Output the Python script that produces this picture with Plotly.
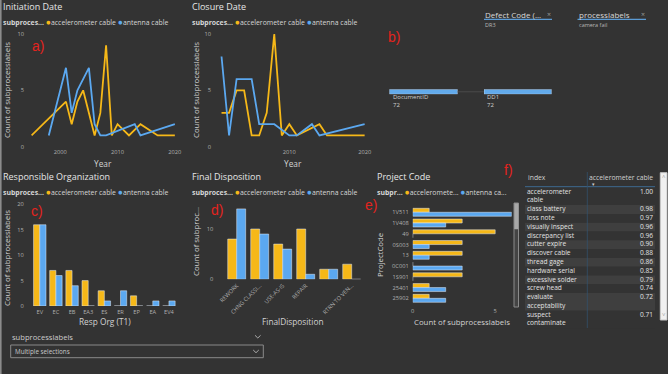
import plotly.graph_objects as go

W, H = 668, 374
BG = "#333333"
YEL = "#F6B818"
BLU = "#5BA8F0"
RED = "#E3231E"
FONT = "Open Sans"
TICK = "#b0b0b0"
TXT = "#e6e6e6"
ATXT = "#d2d2d2"

# ---------------- data ----------------
init_years_acc = [1995, 2001, 2002, 2003, 2004, 2006, 2007, 2008, 2009, 2010, 2012, 2014, 2017, 2020]
init_vals_acc = [1, 4, 2, 4, 5, 1, 3, 9, 1, 2, 1, 2, 1, 1]
init_years_ant = [1998, 2001, 2002, 2003, 2005, 2006, 2007, 2008, 2013, 2014, 2020]
init_vals_ant = [1, 7, 3, 5, 7, 2, 1, 1, 2, 1, 2]

clos_years_acc = [2001, 2002, 2003, 2004, 2005, 2006, 2007, 2008, 2009, 2010, 2011, 2014, 2015, 2020]
clos_vals_acc = [3, 3, 5, 5, 1, 1, 3, 10, 1, 2, 1, 2, 1, 1]
clos_years_ant = [2001, 2002, 2003, 2005, 2006, 2008, 2010, 2011, 2013, 2014, 2020]
clos_vals_ant = [8, 1, 6, 6, 2, 2, 1, 1, 2, 1, 2]

org_cats = ["EV", "EC", "EB", "EA3", "ES", "ER", "EP", "EA", "EV4"]
org_acc = [16, 7, 7, 5, 3, 0, 2, 0, 0]
org_ant = [16, 6, 4, 0, 1, 3, 0, 1, 1]

disp_cats = ["REWORK", "CHNG CLASSI...", "USE-AS-IS", "REPAIR", "(label hidden)", "RTRN TO VEN..."]
disp_acc = [8, 10, 7, 10, 2, 3]
disp_ant = [14, 9, 6, 1, 2, 0]

proj_cats = ["1V511", "1V408", "49", "0S003", "13", "0C001", "1S901", "25401", "25902"]
proj_acc = [1, 3, 5, 3, 3, 0, 3, 1, 1]
proj_ant = [6, 2, 0, 1, 1, 3, 0, 2, 2]

corr_index = ["accelerometer cable", "class battery", "loss note", "visually inspect",
              "discrepancy list", "cutter expire", "discover cable", "thread gage",
              "hardware serial", "excessive solder", "screw head", "evaluate acceptability",
              "suspect contaminate"]
corr_vals = [1.00, 0.98, 0.97, 0.96, 0.96, 0.90, 0.88, 0.86, 0.85, 0.79, 0.74, 0.72, 0.71]
table_headers = ["index", "accelerometer cable"]

decomp_labels = ["DocumentID", "DD1"]
decomp_vals = [72, 72]

filter_titles = ["Defect Code (...", "processlabels"]
filter_values = ["DR3", "camera fail"]

legend_names = ["accelerometer cable", "antenna cable"]


# ---------------- helpers ----------------
def px(x):
    return x / W


def py(y):
    return 1 - y / H


def dom_x(a, b):
    return [a / W, b / W]


def dom_y(top, bottom):
    return [1 - bottom / H, 1 - top / H]


fig = go.Figure()

# line charts
fig.add_trace(go.Scatter(x=init_years_acc, y=init_vals_acc, mode="lines", name=legend_names[0],
                         line=dict(color=YEL, width=1.8), xaxis="x", yaxis="y"))
fig.add_trace(go.Scatter(x=init_years_ant, y=init_vals_ant, mode="lines", name=legend_names[1],
                         line=dict(color=BLU, width=1.8), xaxis="x", yaxis="y"))
fig.add_trace(go.Scatter(x=clos_years_acc, y=clos_vals_acc, mode="lines", name=legend_names[0],
                         line=dict(color=YEL, width=1.8), xaxis="x2", yaxis="y2"))
fig.add_trace(go.Scatter(x=clos_years_ant, y=clos_vals_ant, mode="lines", name=legend_names[1],
                         line=dict(color=BLU, width=1.8), xaxis="x2", yaxis="y2"))

# responsible org
wc = 0.385
fig.add_trace(go.Bar(x=org_cats, y=org_acc, marker_color=YEL, width=wc, offset=-wc,
                     xaxis="x3", yaxis="y3"))
fig.add_trace(go.Bar(x=org_cats, y=org_ant, marker_color=BLU, width=wc, offset=0,
                     xaxis="x3", yaxis="y3"))
# final disposition
wd = 0.39
fig.add_trace(go.Bar(x=disp_cats, y=disp_acc, marker_color=YEL, width=wd, offset=-wd,
                     xaxis="x4", yaxis="y4"))
fig.add_trace(go.Bar(x=disp_cats, y=disp_ant, marker_color=BLU, width=wd, offset=0,
                     xaxis="x4", yaxis="y4"))
# project code
we = 0.37
fig.add_trace(go.Bar(y=proj_cats, x=proj_acc, orientation="h", marker_color=YEL, width=we,
                     offset=-we, xaxis="x5", yaxis="y5"))
fig.add_trace(go.Bar(y=proj_cats, x=proj_ant, orientation="h", marker_color=BLU, width=we,
                     offset=0, xaxis="x5", yaxis="y5"))
# decomposition tree nodes
fig.add_trace(go.Bar(y=[0], x=[decomp_vals[0]], orientation="h", marker_color="#62AAEB",
                     width=1, xaxis="x6", yaxis="y6"))
fig.add_trace(go.Bar(y=[0], x=[decomp_vals[1]], orientation="h", marker_color="#62AAEB",
                     width=1, xaxis="x7", yaxis="y7"))


# correlation table (rows on a hidden axis measured in text lines)
def wrap(s):
    if len(s) >= 19 and " " in s:
        a, b = s.split(" ", 1)
        return a + "<br>" + b
    return s


wrapped = [wrap(s) for s in corr_index]
nlines = [w.count("<br>") + 1 for w in wrapped]
tops = []
acc = 0
for n in nlines:
    tops.append(acc)
    acc += n
total_lines = acc
light = "#3f3f3f"
row_fill = [BG if i % 2 == 0 else light for i in range(len(corr_index))]
fig.add_trace(go.Bar(y=[t + n / 2 for t, n in zip(tops, nlines)], x=[1] * len(nlines),
                     base=0, width=nlines, orientation="h", marker=dict(color=row_fill, line_width=0),
                     xaxis="x8", yaxis="y8"))
fig.add_trace(go.Scatter(x=[0.015] * len(wrapped), y=[t + n / 2 for t, n in zip(tops, nlines)],
                         text=wrapped, mode="text", textposition="middle right",
                         textfont=dict(family=FONT, size=6.6, color="#e2e2e2"),
                         xaxis="x8", yaxis="y8"))
fig.add_trace(go.Scatter(x=[0.985] * len(corr_vals), y=[t + 0.5 for t in tops],
                         text=[f"{v:.2f}" for v in corr_vals], mode="text",
                         textposition="middle left",
                         textfont=dict(family=FONT, size=6.6, color="#e2e2e2"),
                         xaxis="x8", yaxis="y8"))

tickf = dict(family=FONT, size=5.7, color=TICK)
base = dict(showgrid=False, zeroline=False, showline=False, ticks="", tickfont=tickf,
            fixedrange=True, automargin=False)
hidden = dict(visible=False, showgrid=False, zeroline=False, fixedrange=True, automargin=False)

LINE_PX = 8.8
TBL_TOP = 187.5

layout = dict(
    width=W, height=H, autosize=False, margin=dict(l=0, r=0, t=0, b=0, pad=0),
    paper_bgcolor=BG, plot_bgcolor=BG, showlegend=False, barmode="overlay",
    font=dict(family=FONT, color=TXT),
    xaxis=dict(domain=dom_x(31, 176), range=[1994.9, 2020.2], tickvals=[2000, 2010, 2020],
               anchor="y", ticklabelstandoff=1, **base),
    yaxis=dict(domain=dom_y(30.6, 146.7), range=[0, 10.3], tickvals=[0, 5, 10], anchor="x",
               ticklabelstandoff=6, **base),
    xaxis2=dict(domain=dom_x(214, 366), range=[2000, 2020.18], tickvals=[2010, 2020],
                anchor="y2", ticklabelstandoff=1, **base),
    yaxis2=dict(domain=dom_y(30.6, 146.7), range=[0, 10.3], tickvals=[0, 5, 10], anchor="x2",
                ticklabelstandoff=2, **base),
    xaxis3=dict(domain=dom_x(31.7, 177), range=[-0.5, 8.5], type="category", anchor="y3",
                ticklabelstandoff=1, **base),
    yaxis3=dict(domain=dom_y(201.9, 306), range=[0, 20.5], tickvals=[0, 5, 10, 15, 20],
                anchor="x3", ticklabelstandoff=7, **base),
    xaxis4=dict(domain=dom_x(225.2, 363.2), range=[-0.5, 5.5], type="category", anchor="y4",
                tickangle=-45, tickvals=[c for c in disp_cats if c != "(label hidden)"],
                ticklabelstandoff=1, **base),
    yaxis4=dict(domain=dom_y(203.85, 279.3), range=[0, 15], tickvals=[0, 10], anchor="x4",
                ticklabelstandoff=11, **base),
    xaxis5=dict(domain=dom_x(412.7, 511.7), range=[0, 6], tickvals=[0, 5], anchor="y5",
                ticklabelstandoff=3, **base),
    yaxis5=dict(domain=dom_y(206.9, 303.7), range=[8.5, -0.5], type="category",
                categoryarray=proj_cats, anchor="x5", ticklabelstandoff=3, **base),
    xaxis6=dict(domain=dom_x(389.3, 457.7), range=[0, 72], anchor="y6", **hidden),
    yaxis6=dict(domain=dom_y(89.3, 94.3), range=[-0.5, 0.5], anchor="x6", **hidden),
    xaxis7=dict(domain=dom_x(484, 551.7), range=[0, 72], anchor="y7", **hidden),
    yaxis7=dict(domain=dom_y(89.3, 94.3), range=[-0.5, 0.5], anchor="x7", **hidden),
    xaxis8=dict(domain=dom_x(525, 655), range=[0, 1], anchor="y8", **hidden),
    yaxis8=dict(domain=dom_y(TBL_TOP, TBL_TOP + total_lines * LINE_PX), range=[total_lines, 0],
                anchor="x8", **hidden),
)

anns = []


def ann(text, x, y, size, color=TXT, xanchor="left", yanchor="middle", angle=0, family=FONT,
        align="center"):
    anns.append(dict(text=text, x=px(x), y=py(y), xref="paper", yref="paper", showarrow=False,
                     xanchor=xanchor, yanchor=yanchor, textangle=angle, align=align,
                     font=dict(family=family, size=size, color=color), borderpad=0))


def legend(x, y, label, n1, n2):
    ann(f"<b>{label}</b> <span style='color:{YEL};font-size:8.5px'>●</span>{n1} "
        f"<span style='color:{BLU};font-size:8.5px'>●</span>{n2}", x, y, 6.9, "#d6d6d6")


# titles
TS = 9.0
ann("Initiation Date", 2, 7, TS)
ann("Closure Date", 191, 7, TS)
ann("Responsible Organization", 2, 176, TS)
ann("Final Disposition", 191, 176, TS)
ann("Project Code", 376, 176, TS)

legend(2, 21, "subproces...", legend_names[0], legend_names[1])
legend(191, 21, "subproces...", legend_names[0], legend_names[1])
legend(2, 191.7, "subproces...", legend_names[0], legend_names[1])
legend(191, 191.7, "subproces...", legend_names[0], legend_names[1])
legend(376, 191.7, "subpr...", "acceleromete...", "antenna ca...")

# axis titles
ann("Year", 103, 163, 8.3, ATXT, xanchor="center")
ann("Year", 292.7, 163, 8.3, ATXT, xanchor="center")
ann("Count of subprocesslabels", 7, 90, 7.8, ATXT, xanchor="center", angle=-90)
ann("Count of subprocesslabels", 196, 90, 7.8, ATXT, xanchor="center", angle=-90)
ann("Resp Org (T1)", 105, 321, 8.3, ATXT, xanchor="center")
ann("Count of subprocesslabels", 7, 258, 7.8, ATXT, xanchor="center", angle=-90)
ann("FinalDisposition", 293, 321.7, 8.3, ATXT, xanchor="center")
ann("Count of subproc...", 196, 242, 7.8, ATXT, xanchor="center", angle=-90)
ann("Count of subprocesslabels", 461.7, 321.5, 7.8, ATXT, xanchor="center")
ann("ProjectCode", 380, 255, 7.8, ATXT, xanchor="center", angle=-90)

# red panel labels
ann("a)", 37.5, 46, 14, RED, xanchor="center", family="Liberation Sans")
ann("b)", 394, 37.5, 14, RED, xanchor="center", family="Liberation Sans")
ann("c)", 37, 211, 14, RED, xanchor="center", family="Liberation Sans")
ann("d)", 217, 210, 14, RED, xanchor="center", family="Liberation Sans")
ann("e)", 371.5, 205, 14, RED, xanchor="center", family="Liberation Sans")
ann("f)", 508, 170, 14, RED, xanchor="center", family="Liberation Sans")

# filter cards
for tx, t, v, xe in [(484, filter_titles[0], filter_values[0], 552),
                     (577.5, filter_titles[1], filter_values[1], 646)]:
    ann(t, tx, 14, 8, "#d8d8d8")
    ann("×", xe - 3, 14, 7, "#9a9a9a", xanchor="center")
    ann(v, tx, 24.7, 5.5, "#b8b8b8")

# decomposition labels
ann(f"{decomp_labels[0]}<br>{decomp_vals[0]}", 391.5, 101.5, 6, "#d0d0d0", align="left")
ann(f"{decomp_labels[1]}<br>{decomp_vals[1]}", 485.5, 101.5, 6, "#d0d0d0", align="left")

# slicer
ann("subprocesslabels", 11, 336.7, 7.6, "#cccccc")
ann("Multiple selections", 13.5, 351.3, 6.3, "#c8c8c8")

# table header
ann(table_headers[0], 526.5, 177.3, 6.8, "#d0d0d0")
ann(table_headers[1], 654, 177.3, 6.8, "#d0d0d0", xanchor="right")
ann("▾", 593, 183.5, 5, "#d0d0d0", xanchor="center")
ann("˄", 663.7, 177, 6, "#777777", xanchor="center")
ann("˅", 663.7, 315, 6, "#777777", xanchor="center")

layout["annotations"] = anns

shapes = []


def line(x0, y0, x1, y1, color, width=1):
    shapes.append(dict(type="line", xref="paper", yref="paper", x0=px(x0), y0=py(y0),
                       x1=px(x1), y1=py(y1), line=dict(color=color, width=width)))


def rect(x0, y0, x1, y1, fill, lc, width=1):
    shapes.append(dict(type="rect", xref="paper", yref="paper", x0=px(x0), y0=py(y0),
                       x1=px(x1), y1=py(y1), fillcolor=fill, line=dict(color=lc, width=width)))


# left frame edge
line(0.8, 0, 0.8, 374, "#8c8c8c", 1.6)
# filter underlines
line(484, 19.3, 552, 19.3, "#5B9BD5", 1.3)
line(577.5, 19.3, 646, 19.3, "#5B9BD5", 1.3)
# decomposition connector
line(457.7, 91.8, 484, 91.8, "#4a4a4a", 1)
# slicer box + chevrons
rect(10.7, 345, 263.3, 357.7, "rgba(0,0,0,0)", "#8a8a8a", 1)
line(255, 335.3, 257.8, 338, "#aaaaaa", 1)
line(257.8, 338, 260.6, 335.3, "#aaaaaa", 1)
line(253.2, 350, 256, 352.7, "#aaaaaa", 1)
line(256, 352.7, 258.8, 350, "#aaaaaa", 1)
# project code scrollbar
rect(514, 203, 518.5, 307, "#444444", "#8a8a8a", 1)
rect(514.5, 203.5, 518, 229, "#a8a8a8", "#a8a8a8", 0.5)
# table header underline and divider
line(525, 186.7, 655, 186.7, "#3e6a92", 1)
line(587.3, 172, 587.3, 328, "#34506b", 0.8)
# table scrollbar
rect(660.3, 172.7, 667, 320, "#f0f0f0", "#c8c8c8", 1)

layout["shapes"] = shapes
fig.update_layout(**layout)
fig.write_html("out.html")
